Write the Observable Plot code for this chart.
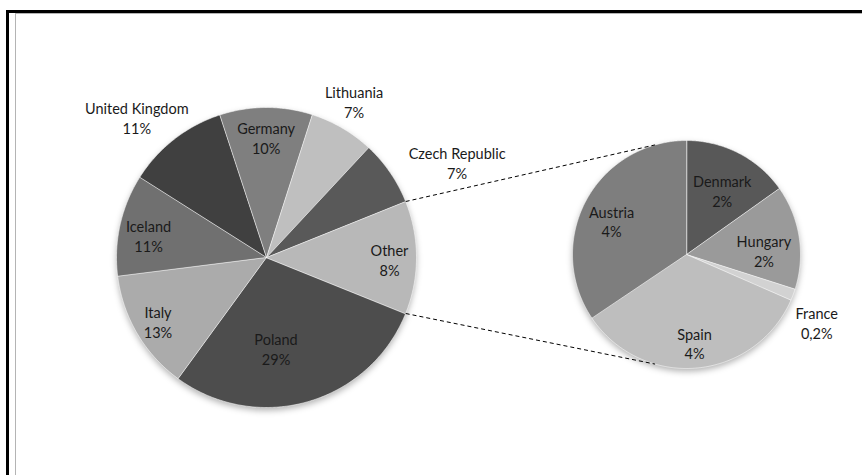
<!DOCTYPE html>
<html><head><meta charset="utf-8">
<script src="https://cdn.jsdelivr.net/npm/d3@7"></script>
<script src="https://cdn.jsdelivr.net/npm/@observablehq/plot@0.6"></script>
<style>
html,body{margin:0;padding:0;background:#fff;}
#wrap{position:relative;width:862px;height:475px;overflow:hidden;}
#frame{position:absolute;left:6px;top:10px;width:900px;height:520px;border-left:3px solid #000;border-top:3px solid #000;}
#inner{position:absolute;left:15px;top:13px;width:900px;height:520px;border-left:1px solid #b4b4b4;border-top:1px solid #b4b4b4;}
#chart{position:absolute;left:0;top:0;}
</style></head>
<body><div id="wrap"><div id="frame"></div><div id="inner"></div><div id="chart"></div></div>
<script>
// ---- data ----
const mainCountries = ["Poland", "Italy", "Iceland", "United Kingdom", "Germany", "Lithuania", "Czech Republic", "Other"];
const mainValues = [29, 13, 11, 11, 10, 7, 7]; // "Other" = sum of the second pie
const mainLabels = ["29%", "13%", "11%", "11%", "10%", "7%", "7%", "8%"];
const subCountries = ["Denmark", "Hungary", "France", "Spain", "Austria"];
const subValues = [1.85, 1.8, 0.2, 4.15, 4.2];
const subLabels = ["2%", "2%", "0,2%", "4%", "4%"];

// ---- styles / layout ----
const mainColors = {"Poland": "#4d4d4d", "Italy": "#ababab", "Iceland": "#707070", "United Kingdom": "#404040",
  "Germany": "#7f7f7f", "Lithuania": "#bfbfbf", "Czech Republic": "#595959", "Other": "#b8b8b8"};
const subColors = {"Denmark": "#585858", "Hungary": "#9a9a9a", "France": "#d2d2d2", "Spain": "#bebebe", "Austria": "#7e7e7e"};
// label placement: [radius factor, angle offset in degrees]
const mainLabelPos = {"Poland": [0.61, 10], "Italy": [0.84, 0], "Iceland": [0.8, -2], "United Kingdom": [1.27, -5],
  "Germany": [0.8, 0], "Lithuania": [1.19, -1], "Czech Republic": [1.42, 8], "Other": [0.82, 1]};
const subLabelPos = {"Denmark": [0.64, 2], "Hungary": [0.68, 6], "France": [1.29, 7], "Spain": [0.78, 0], "Austria": [0.72, -4]};

const W = 862, H = 475;
const mainC = {x: 266, y: 257, r: 150};
const subC = {x: 686, y: 254, r: 114};

const otherValue = d3.sum(subValues);
const mainAll = mainValues.concat([otherValue]);
const total = d3.sum(mainAll);
const start = Math.PI / 2 + (otherValue / total) * Math.PI;

const mainArcs = d3.pie().sort(null).startAngle(start).endAngle(start + 2 * Math.PI)(mainAll);
const subArcs = d3.pie().sort(null).startAngle(0).endAngle(2 * Math.PI)(subValues);

const px = (c, a, f = 1) => c.x + c.r * f * Math.sin(a);
const py = (c, a, f = 1) => c.y - c.r * f * Math.cos(a);

function slicePoints(c, arcs, names, colors, prefix) {
  const pts = [];
  arcs.forEach((arc, i) => {
    const name = prefix + names[i], color = colors[names[i]];
    pts.push({name, color, x: c.x, y: c.y});
    const n = Math.max(2, Math.ceil((arc.endAngle - arc.startAngle) / (Math.PI / 360)));
    for (let k = 0; k <= n; k++) {
      const a = arc.startAngle + (arc.endAngle - arc.startAngle) * k / n;
      pts.push({name, color, x: px(c, a), y: py(c, a)});
    }
  });
  return pts;
}
const slices = slicePoints(mainC, mainArcs, mainCountries, mainColors, "main-")
  .concat(slicePoints(subC, subArcs, subCountries, subColors, "sub-"));

function labelRows(c, arcs, names, labels, pos) {
  return arcs.map((arc, i) => {
    const [f, da] = pos[names[i]];
    const a = (arc.startAngle + arc.endAngle) / 2 + da * Math.PI / 180;
    return {x: px(c, a, f), y: py(c, a, f), text: names[i] + "\n" + labels[i]};
  });
}
const labels = labelRows(mainC, mainArcs, mainCountries, mainLabels, mainLabelPos)
  .concat(labelRows(subC, subArcs, subCountries, subLabels, subLabelPos));

// connectors from the edges of "Other" to the second pie
const otherArc = mainArcs[mainArcs.length - 1];
const conAng = 74 * Math.PI / 180;
const connectors = [
  {x1: px(mainC, otherArc.startAngle), y1: py(mainC, otherArc.startAngle),
   x2: subC.x - subC.r * Math.cos(conAng), y2: subC.y - subC.r * Math.sin(conAng)},
  {x1: px(mainC, otherArc.endAngle), y1: py(mainC, otherArc.endAngle),
   x2: subC.x - subC.r * Math.cos(conAng), y2: subC.y + subC.r * Math.sin(conAng)}
];

const chart = Plot.plot({
  width: W, height: H, margin: 0,
  x: {domain: [0, W], range: [0, W], axis: null},
  y: {domain: [0, H], range: [0, H], axis: null},
  color: {type: "identity"},
  style: {fontFamily: "Lato, 'Open Sans', sans-serif", fontSize: "14.5px", background: "transparent"},
  marks: [
    Plot.dot([mainC], {x: "x", y: "y", r: mainC.r, dy: 3, fill: "#000", fillOpacity: 0.3, stroke: null, imageFilter: "blur(3px)"}),
    Plot.dot([subC], {x: "x", y: "y", r: subC.r, dy: 3, fill: "#000", fillOpacity: 0.3, stroke: null, imageFilter: "blur(3px)"}),
    Plot.line(slices, {x: "x", y: "y", z: "name", fill: "color", stroke: "#ffffff", strokeOpacity: 0.55, strokeWidth: 1, curve: "linear-closed"}),
    Plot.link(connectors, {x1: "x1", y1: "y1", x2: "x2", y2: "y2", stroke: "#000", strokeWidth: 1, strokeDasharray: "4,3"}),
    Plot.text(labels, {x: "x", y: "y", text: "text", lineHeight: 1.35, fill: "#1a1a1a"})
  ]
});
document.getElementById("chart").appendChild(chart);
</script>
</body></html>
